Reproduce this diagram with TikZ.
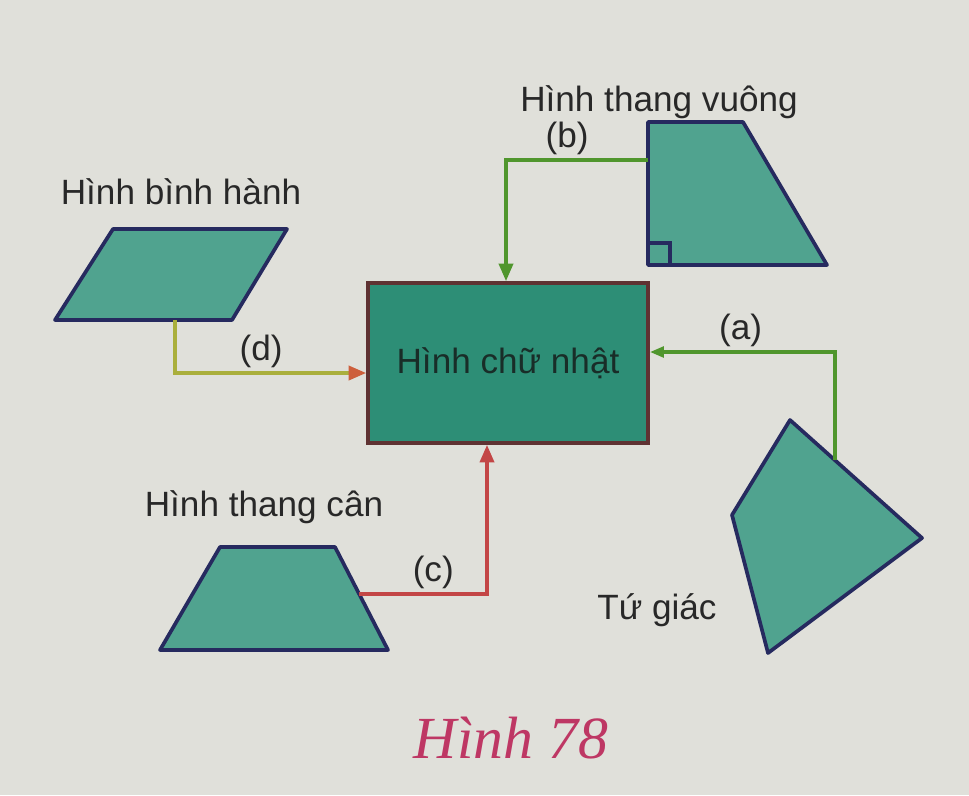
\documentclass[tikz,border=0pt]{standalone}
\usepackage{fontspec}
\setmainfont{Liberation Sans}
\newfontfamily\capfont{Liberation Serif}
\usetikzlibrary{arrows.meta}
\definecolor{bg}{RGB}{224,224,218}
\definecolor{shapefill}{RGB}{80,163,143}
\definecolor{rectfill}{RGB}{45,142,118}
\definecolor{edge}{RGB}{38,42,95}
\definecolor{rectedge}{RGB}{95,50,50}
\definecolor{lgreen}{RGB}{80,150,45}
\definecolor{lolive}{RGB}{170,175,60}
\definecolor{lred}{RGB}{195,70,70}
\definecolor{lorange}{RGB}{205,95,60}
\definecolor{capred}{RGB}{190,55,100}
\definecolor{txt}{RGB}{40,40,40}
\definecolor{recttxt}{RGB}{25,45,40}
\begin{document}
\begin{tikzpicture}[x=0.02cm,y=-0.02cm,
  shapestyle/.style={fill=shapefill, draw=edge, line width=2.1pt, line join=round},
  conn/.style={line width=2pt},
  lab/.style={font=\fontsize{20}{24}\selectfont, text=txt, inner sep=1pt},
  tiparrow/.style={-{Triangle[length=10pt,width=8pt]}}]
% background
\fill[bg] (0,0) rectangle (969,795);
\useasboundingbox (0,0) rectangle (969,795);

% main rectangle
\node[draw=rectedge, fill=rectfill, line width=2.1pt, minimum width=5.6cm, minimum height=3.2cm,
      font=\fontsize{20}{24}\selectfont, text=recttxt] (rect) at (508,363) {Hình chữ nhật};

% parallelogram
\coordinate (p1) at (113,229); \coordinate (p2) at (287,229);
\coordinate (p3) at (232,320); \coordinate (p4) at (55,320);
\draw[shapestyle] (p1) -- (p2) -- (p3) -- (p4) -- cycle;
\node[lab] (tpb) at (181,192) {Hình bình hành};

% right trapezoid
\coordinate (v1) at (648,122); \coordinate (v2) at (743,122);
\coordinate (v3) at (827,265); \coordinate (v4) at (648,265);
\draw[shapestyle] (v1) -- (v2) -- (v3) -- (v4) -- cycle;
\draw[draw=edge, line width=1.8pt] (648,243) -- (670,243) -- (670,265);
\node[lab] (tv) at (659,102) {Hình thang vuông};

% isosceles trapezoid
\coordinate (c1) at (220,547); \coordinate (c2) at (335,547);
\coordinate (c3) at (388,650); \coordinate (c4) at (160,650);
\draw[shapestyle] (c1) -- (c2) -- (c3) -- (c4) -- cycle;
\node[lab] (tc) at (264,507) {Hình thang cân};

% quadrilateral
\coordinate (q1) at (790,420); \coordinate (q2) at (922,538);
\coordinate (q3) at (768,653); \coordinate (q4) at (732,515);
\draw[shapestyle] (q1) -- (q2) -- (q3) -- (q4) -- cycle;
\node[lab] (tg) at (657,610) {Tứ giác};

% connector (d)
\coordinate (pb) at (175,320); \coordinate (dk) at (175,373);
\draw[conn, draw=lolive, -{Triangle[length=10pt,width=8pt,color=lorange]}]
  (pb) -- (dk) -- node[lab, pos=0.45, above=1pt] (ld) {(d)} (dk -| rect.west);

% connector (b)
\coordinate (tb) at (648,160); \coordinate (bk) at (506,160);
\draw[conn, draw=lgreen, tiparrow]
  (tb) -- node[lab, pos=0.57, above=1pt] (lb) {(b)} (bk) -- (bk |- rect.north);

% connector (c)
\coordinate (tcc) at (359,594); \coordinate (ck) at (487,594);
\draw[conn, draw=lred, tiparrow]
  (tcc) -- node[lab, pos=0.58, above=1pt] (lc) {(c)} (ck) -- (ck |- rect.south);

% connector (a)
\coordinate (qa) at (835,460); \coordinate (ak) at (835,352);
\draw[conn, draw=lgreen, -{Triangle[length=8pt,width=6pt]}]
  (qa) -- (ak) -- node[lab, pos=0.51, above=1pt] (la) {(a)} (ak -| rect.east);

% caption
\node[font=\capfont\itshape\fontsize{34}{40}\selectfont, text=capred] (cap) at (511,738) {Hình 78};
\end{tikzpicture}
\end{document}
